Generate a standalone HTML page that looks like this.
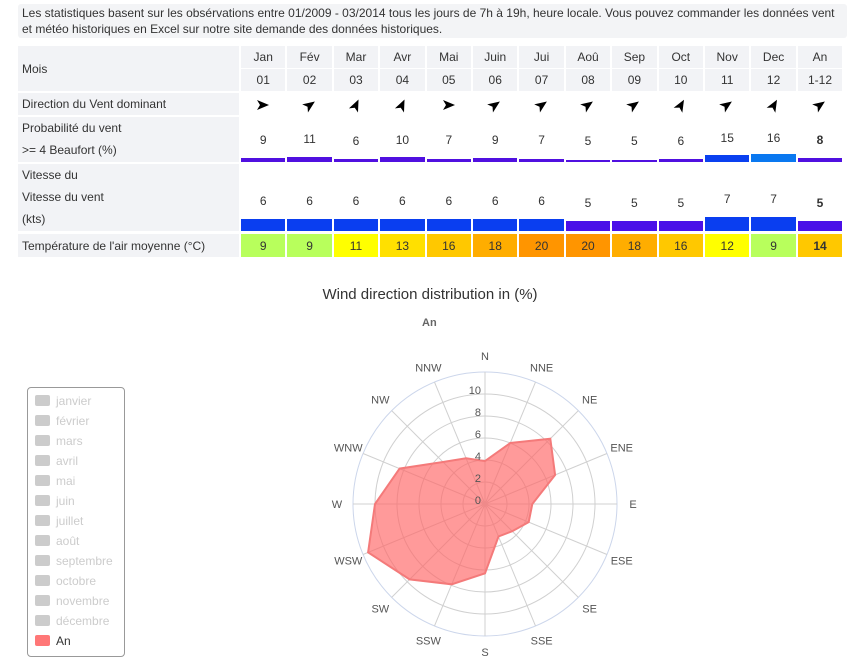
<!DOCTYPE html>
<html><head><meta charset="utf-8"><style>
body{margin:0;width:866px;height:661px;background:#fff;font-family:"Liberation Sans",sans-serif;position:relative;overflow:hidden;color:#333}
.note{position:absolute;left:18px;top:4px;width:821px;height:32px;background:#f3f4f6;border-radius:3px;font-size:12px;line-height:16px;padding:1px 4px;color:#333}
.cell{position:absolute;background:#f2f3f6;font-size:12px;color:#333}
.c{text-align:center}
</style></head><body>
<div class="note">Les statistiques basent sur les obsérvations entre 01/2009 - 03/2014 tous les jours de 7h à 19h, heure locale. Vous pouvez commander les données vent et météo historiques en Excel sur notre site demande des données historiques.</div>
<div id="table"></div>
<div style="position:absolute;left:0;top:286px;width:866px;text-align:center;font-size:15px;color:#333;padding-right:0"><span style="position:relative;left:-3px">Wind direction distribution in (%)</span></div>
<div style="position:absolute;left:422px;top:317px;font-size:11px;color:#666;font-weight:bold">An</div>
<div style="position:absolute;left:27px;top:387px;width:96px;height:268px;border:1px solid #999;border-radius:4px" id="legend"></div>
<svg id="radar" width="866" height="661" style="position:absolute;left:0;top:0"></svg>
<script>
const months=["Jan","Fév","Mar","Avr","Mai","Juin","Jui","Aoû","Sep","Oct","Nov","Dec","An"];
const monthNums=["01","02","03","04","05","06","07","08","09","10","11","12","1-12"];
const dirAngles=[0,-35,-65,-65,0,-35,-35,-35,-35,-60,-35,-60,-35];
const probValues=[9,11,6,10,7,9,7,5,5,6,15,16,8];
const speedValues=[6,6,6,6,6,6,6,5,5,5,7,7,5];
const tempValues=[9,9,11,13,16,18,20,20,18,16,12,9,14];
const legendNames=["janvier","février","mars","avril","mai","juin","juillet","août","septembre","octobre","novembre","décembre","An"];
const dirLabels=["N","NNE","NE","ENE","E","ESE","SE","SSE","S","SSW","SW","WSW","W","WNW","NW","NNW"];
const windValues=[3.9,6.0,8.4,6.9,4.3,4.3,3.5,3.2,6.3,7.9,9.7,11.5,10.0,8.4,5.4,4.5];
const radialTicks=[0,2,4,6,8,10];

const T=document.getElementById('table');
function cell(x,y,w,h,html,cls,name){const d=document.createElement('div');d.className='cell '+(cls||'');d.style.cssText=`left:${x}px;top:${y}px;width:${w}px;height:${h}px;`;d.innerHTML=html;T.appendChild(d);return d;}
cell(18,46,221,45,'<div style="padding:16px 4px">Mois</div>','','mois-label');
cell(18,93,221,22,'<div style="padding:4px">Direction du Vent dominant</div>','','direction-label');
cell(18,117,221,45,'<div style="padding:4px;line-height:22px;margin-top:-4px">Probabilité du vent<br>&gt;= 4 Beaufort (%)</div>','','probability-label');
cell(18,164,221,67,'<div style="padding:4px;line-height:22px;margin-top:-4px">Vitesse du<br>Vitesse du vent<br>(kts)</div>','','speed-label');
cell(18,234,221,23,'<div style="padding:5px 4px">Température de l\'air moyenne (°C)</div>','','temperature-label');
function tempColor(t){if(t<=9)return'#b8ff5c';if(t<=12)return'#ffff00';if(t<=13)return'#ffe000';if(t<=16)return'#ffc800';if(t<=18)return'#ffad00';return'#ff9500';}
months.forEach((m,i)=>{const x=241+i*46.4,w=44.4;const b=i==12?'font-weight:bold;':'';
cell(x,46,w,22,`<div style="padding-top:4px">${m}</div>`,'c','month-name');
cell(x,69,w,22,`<div style="padding-top:4px">${monthNums[i]}</div>`,'c','month-number');
const a=cell(x,93,w,22,`<svg width="14" height="14" style="margin-top:5px;transform:rotate(${dirAngles[i]}deg)"><path d="M1,2 L13,7 L1,12 L4,7 Z" fill="#000"/></svg>`,'c','direction-arrow');a.style.background='#fff';
const ph=probValues[i]*0.5;const pc=probValues[i]>=16?'#0a78f0':probValues[i]>=15?'#0a40f0':'#5010e0';
const p=cell(x,117,w,45,`<div style="position:absolute;left:0;right:0;top:${18-ph/2}px;${b}">${probValues[i]}</div><div style="position:absolute;left:0;right:0;bottom:0;height:${ph}px;background:${pc}"></div>`,'c','probability-value');p.style.background='#fff';
const sh=speedValues[i]*2;const sc=speedValues[i]>=6?'#0a3ef0':'#4a10e8';
const s=cell(x,164,w,67,`<div style="position:absolute;left:0;right:0;top:${42-sh}px;${b}">${speedValues[i]}</div><div style="position:absolute;left:0;right:0;bottom:0;height:${sh}px;background:${sc}"></div>`,'c','speed-value');s.style.background='#fff';
const t=cell(x,234,w,23,`<div style="padding-top:5px;${b}">${tempValues[i]}</div>`,'c','temperature-value');t.style.background=tempColor(tempValues[i]);
});
const L=document.getElementById('legend');
legendNames.forEach((n,i)=>{const d=document.createElement('div');const on=i==12;
d.style.cssText=`position:absolute;left:7px;top:${6+i*20}px;font-size:12px;color:${on?'#333':'#ccc'};font-weight:${on?'normal':'normal'};white-space:nowrap`;
d.innerHTML=`<span style="display:inline-block;width:15px;height:11px;border-radius:2px;background:${on?'#f77':'#ccc'};vertical-align:-1px;margin-right:6px"></span>${n}`;
L.appendChild(d);});
const S=document.getElementById('radar'),NS='http://www.w3.org/2000/svg';
const cx=485,cy=504,maxV=12,R=132;
const r=v=>v/maxV*R;
function ang(i){return (i*22.5-90)*Math.PI/180;}
function el(t,a,name){const e=document.createElementNS(NS,t);for(const k in a)e.setAttribute(k,a[k]);S.appendChild(e);return e;}
for(let v=2;v<=maxV;v+=2)el('circle',{cx,cy,r:r(v),fill:'none',stroke:v==maxV?'#ccd6eb':'#d0d0d0','stroke-width':1},'grid-circle');
dirLabels.forEach((l,i)=>{const a=ang(i);el('line',{x1:cx,y1:cy,x2:cx+R*Math.cos(a),y2:cy+R*Math.sin(a),stroke:'#d0d0d0'},'grid-spoke');
const t=el('text',{x:cx+(R+16)*Math.cos(a),y:cy+(R+16)*Math.sin(a)+4,'text-anchor':'middle','font-size':11,fill:'#555','font-family':'Liberation Sans'},'direction-label');t.textContent=l;});
const pts=windValues.map((v,i)=>{const a=ang(i);return (cx+r(v)*Math.cos(a)).toFixed(1)+','+(cy+r(v)*Math.sin(a)).toFixed(1);}).join(' ');
el('polygon',{points:pts,fill:'rgba(255,100,100,0.65)',stroke:'#f47a7a','stroke-width':2},'wind-series-an');
radialTicks.forEach(v=>{const t=el('text',{x:cx-4,y:cy-r(v)+0,'text-anchor':'end','font-size':11,fill:'#555','font-family':'Liberation Sans'},'radial-tick');t.textContent=v;});
</script>
</body></html>
